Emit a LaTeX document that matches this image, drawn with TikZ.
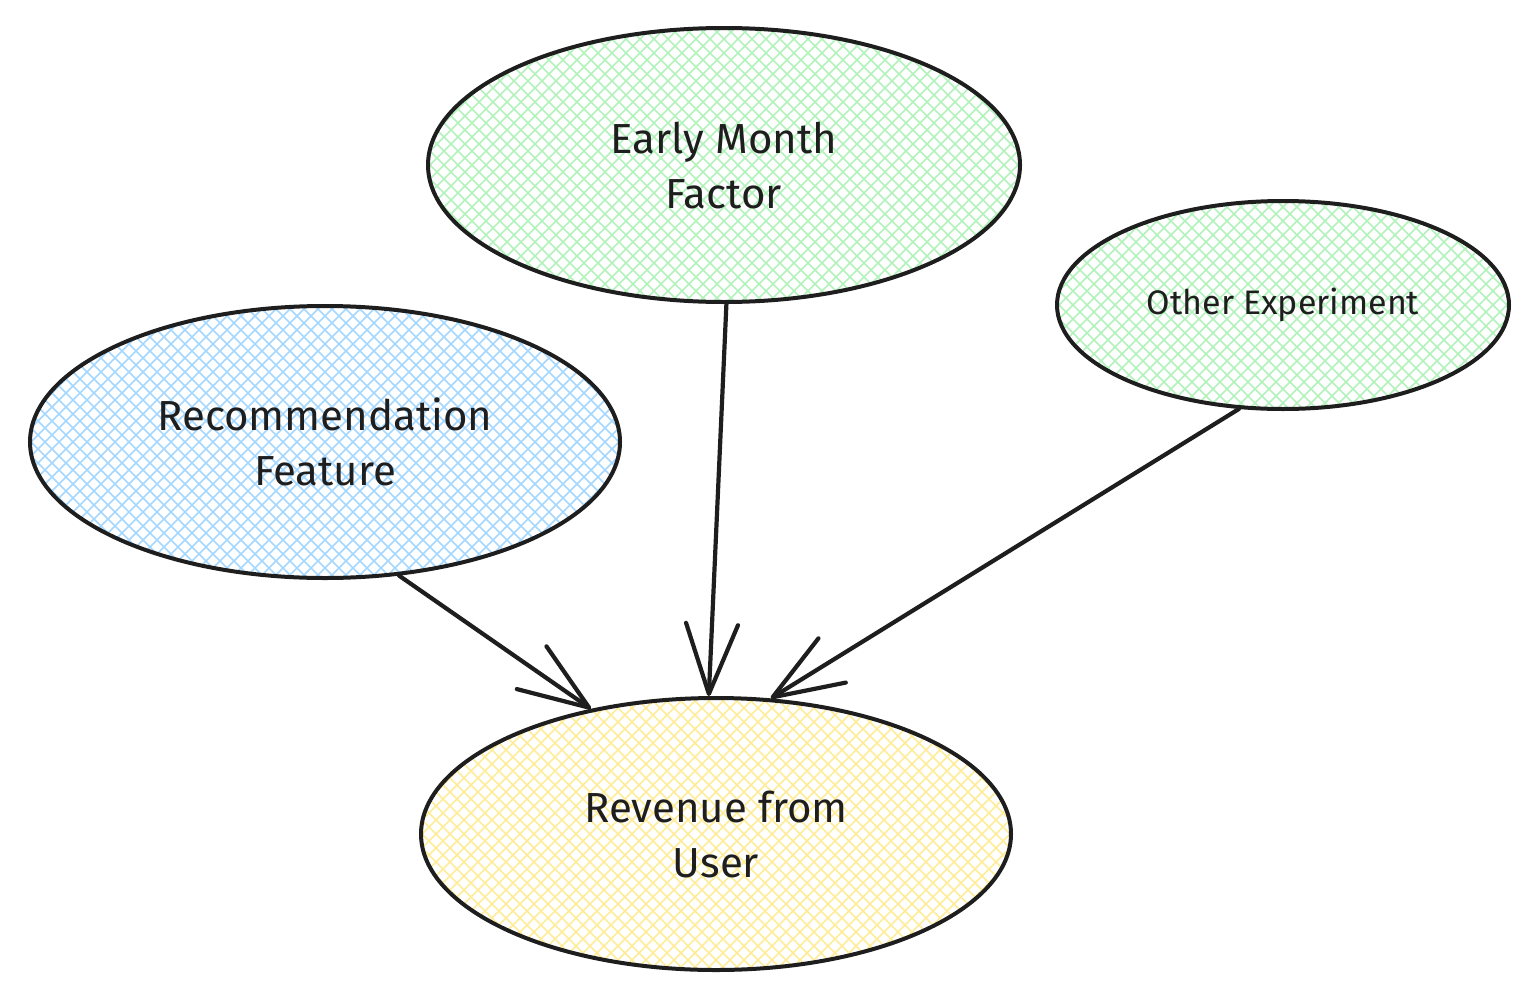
\documentclass[tikz,border=0pt]{standalone}
\usepackage{fontspec}
\setmainfont{Fira Sans}
\usetikzlibrary{shapes.geometric,arrows.meta}
\definecolor{ink}{HTML}{1E1E1E}
\definecolor{hblue}{HTML}{A5D8FF}
\definecolor{hgreen}{HTML}{B2F2BB}
\definecolor{hyellow}{HTML}{FFEC99}
\tikzset{
  hatch/.style={path picture={
    \foreach \i in {-728,-714,...,728}{
      \draw[#1,line width=1.6pt] ([xshift=\i pt]path picture bounding box.center) ++(-320pt,-320pt) -- ++(640pt,640pt);
      \draw[#1,line width=1.6pt] ([xshift=\i pt]path picture bounding box.center) ++(-320pt,320pt) -- ++(640pt,-640pt);
    }}},
  bubble/.style={ellipse, draw=ink, line width=4pt, inner sep=0pt, align=center,
    text=ink, font=\fontsize{42}{55}\selectfont},
  link/.style={draw=ink, line width=4.2pt, line cap=round, -{Straight Barb[length=70pt,width=52pt,line width=4.2pt,round]}}
}
\begin{document}
\begin{tikzpicture}[x=1pt,y=-1pt]
\useasboundingbox (0,0) rectangle (1539,1001);
\node[bubble, hatch=hgreen, minimum width=592pt, minimum height=274pt] (early) at (724,165) {Early Month\\Factor};
\node[bubble, hatch=hgreen, minimum width=452pt, minimum height=208pt, font=\fontsize{34}{44}\selectfont] (other) at (1283,305) {Other Experiment};
\node[bubble, hatch=hblue, minimum width=590pt, minimum height=272pt] (rec) at (325,442) {Recommendation\\Feature};
\node[bubble, hatch=hyellow, minimum width=590pt, minimum height=272pt] (rev) at (716,834) {Revenue from\\User};
\draw[link] (rec.-61.6) -- (rev.135.4);
\draw[link] (early.-89.2) -- (rev.93);
\draw[link] (other.-113.2) -- (rev.68.6);
\end{tikzpicture}
\end{document}
